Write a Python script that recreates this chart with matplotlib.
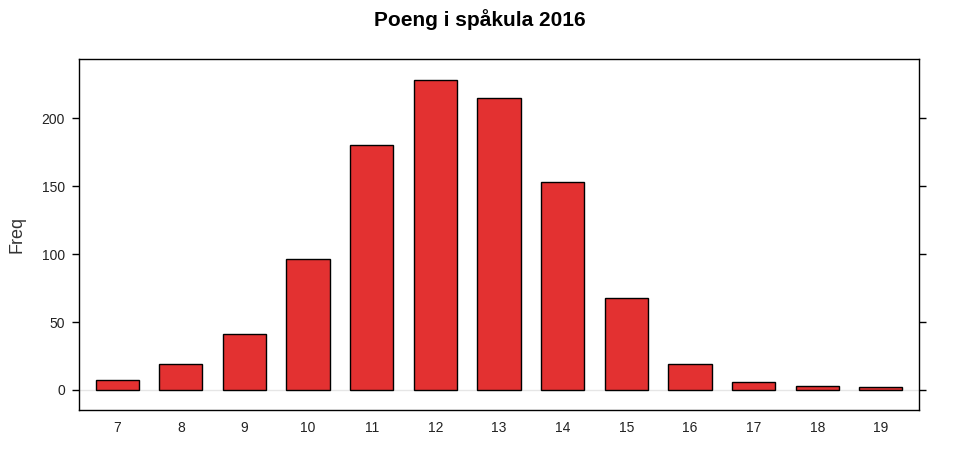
import matplotlib
matplotlib.use("Agg")
import matplotlib.pyplot as plt
import numpy as np

plt.rcParams['font.family'] = ['Liberation Sans', 'DejaVu Sans']

# poeng og frekvens
poeng = [7, 8, 9, 10, 11, 12, 13, 14, 15, 16, 17, 18, 19]
freq = [7, 19, 41, 96, 180, 228, 215, 153, 68, 19, 6, 3, 2]

fig = plt.figure(figsize=(9.6, 4.66), dpi=100)
ax = fig.add_axes([0.0823, 0.1202, 0.9573 - 0.0823, 0.8734 - 0.1202])

x = np.arange(len(poeng))
ax.axhline(0, color='#e6e6e6', lw=1, zorder=0)
ax.bar(x, freq, width=0.68, color='#e33131', edgecolor='black', linewidth=1, zorder=2)

ax.set_xlim(-0.6, len(poeng) - 0.4)
ax.set_ylim(-14.7, 243.4)
ax.set_xticks(x)
ax.set_xticklabels([str(p) for p in poeng])
ax.set_yticks([0, 50, 100, 150, 200])
ax.tick_params(axis='x', length=0, pad=8, labelsize=10, colors='#222222')
ax.tick_params(axis='y', right=True, direction='out', length=5, width=1,
               labelsize=10, pad=5, colors='black', labelcolor='#222222')
for s in ax.spines.values():
    s.set_linewidth(1)

ax.set_ylabel('Freq', fontsize=13, labelpad=12, color='#333333')
fig.suptitle('Poeng i spåkula 2016', fontsize=15, fontweight='bold', y=0.98)

fig.savefig('out.png', dpi=100)
